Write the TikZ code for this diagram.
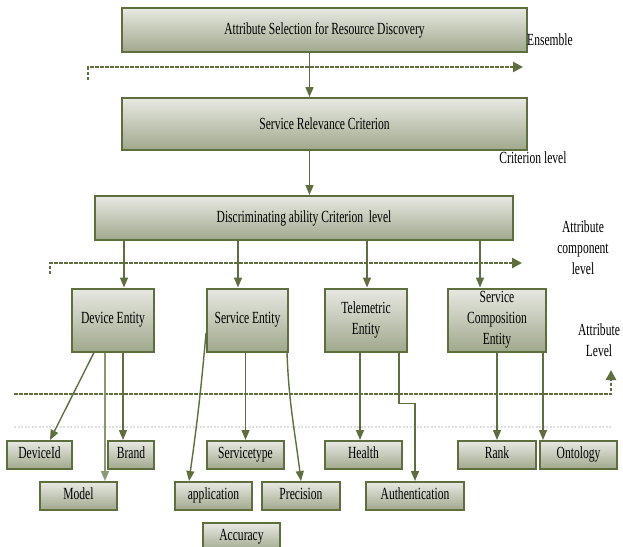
\documentclass[tikz,border=0pt]{standalone}
\usepackage{fontspec}
\setmainfont[FakeStretch=0.68]{Liberation Serif}
\usepackage{xcolor}
\usetikzlibrary{arrows.meta, positioning}

\definecolor{lvlgreen}{RGB}{94,110,62}
\definecolor{boxtop}{RGB}{232,233,227}
\definecolor{boxbot}{RGB}{160,168,140}
\definecolor{paleline}{RGB}{138,152,118}

\begin{document}
\begin{tikzpicture}[x=1pt, y=-1pt,
  box/.style={rectangle, draw=lvlgreen, line width=2pt, top color=boxtop,
              bottom color=boxbot, font=\fontsize{17}{21}\selectfont,
              align=center, inner sep=2pt},
  leaf/.style={box, minimum height=28, text height=11pt, text depth=4pt},
  arr/.style={-{Triangle[length=10pt,width=8pt]}, draw=lvlgreen, line width=1.4pt},
  lvl/.style={draw=lvlgreen, line width=2.8pt, dash pattern=on 3.5pt off 1.5pt,
              -{Triangle[length=10pt,width=10pt]}},
  tag/.style={font=\fontsize{17}{21}\selectfont, align=center}
]
  \useasboundingbox (0,0) rectangle (623,546);

  % levels
  \node[box, minimum width=405, minimum height=44] (asrd) at (324.5,30) {Attribute Selection for Resource Discovery};
  \node[box, minimum width=405, minimum height=52] (src)  at (324.5,124) {Service Relevance Criterion};
  \node[box, minimum width=418, minimum height=44] (dac)  at (304,218) {Discriminating ability Criterion\ \ level};

  % entities
  \node[box, minimum width=82, minimum height=63] (dev) at (113,320) {Device Entity};
  \node[box, minimum width=81, minimum height=63] (sve) at (247.5,320) {Service Entity};
  \node[box, minimum width=82, minimum height=63] (tel) at (366,320) {Telemetric\\Entity};
  \node[box, minimum width=98, minimum height=63] (sce) at (497,320) {Service\\Composition\\Entity};

  % attributes
  \node[leaf, minimum width=65] (did) at (39.5,455)  {DeviceId};
  \node[leaf, minimum width=46] (brd) at (131,455)   {Brand};
  \node[leaf, minimum width=77] (mdl) at (78.5,496)  {Model};
  \node[leaf, minimum width=77] (svt) at (245.5,455) {Servicetype};
  \node[leaf, minimum width=77] (app) at (213.5,496) {application};
  \node[leaf, minimum width=78] (prc) at (301,496)   {Precision};
  \node[leaf, minimum width=77] (acc) at (241.5,537) {Accuracy};
  \node[leaf, minimum width=77] (hlt) at (363.5,455) {Health};
  \node[leaf, minimum width=98] (aut) at (415,496)   {Authentication};
  \node[leaf, minimum width=78] (rnk) at (497,455)   {Rank};
  \node[leaf, minimum width=77] (ont) at (578.5,455) {Ontology};

  % side labels
  \node[tag] (ens) at (550,40)  {Ensemble};
  \node[tag] (crl) at (533,158) {Criterion level};
  \node[tag] (acl) at (583,248) {Attribute\\component\\level};
  \node[tag] (atl) at (599,340) {Attribute\\Level};

  % level lines
  \draw[lvl] (88,80) -- (88,67) -- (523,67);
  \draw[lvl] (50,274) -- (50,263) -- (522,263);
  \draw[lvl] (14,394) -- (611,394) -- (611,370);
  \draw[black!12, line width=2pt, dash pattern=on 2pt off 1.5pt] (14,427) -- (612,427);

  % helper points
  \coordinate (c1) at ([xshift=-15]asrd.south);
  \coordinate (c2) at ([xshift=-15]src.south);
  \coordinate (e1) at ([xshift=11]dev.north);
  \coordinate (e2) at ([xshift=-9.5]sve.north);
  \coordinate (e3) at ([xshift=1]tel.north);
  \coordinate (e4) at ([xshift=-17]sce.north);
  \coordinate (m1) at ([xshift=26.5]mdl.north);
  \coordinate (b1) at ([xshift=-8]brd.north);
  \coordinate (h1) at ([xshift=-3.5]hlt.north);
  \coordinate (o1) at ([xshift=-35.5]ont.north);

  \draw[arr] (c1) -- (c1 |- src.north);
  \draw[arr] (c2) -- (c2 |- dac.north);
  \draw[arr] (e1 |- dac.south) -- (e1);
  \draw[arr] (e2 |- dac.south) -- (e2);
  \draw[arr] (e3 |- dac.south) -- (e3);
  \draw[arr] (e4 |- dac.south) -- (e4);

  \draw[arr] ([xshift=-19]dev.south) -- ([xshift=10.5]did.north);
  \draw[arr, draw=paleline] (m1 |- dev.south) -- (m1);
  \draw[arr] (b1 |- dev.south) -- (b1);
  \draw[arr] ([yshift=-13]sve.west) to[out=-95, in=82] ([xshift=-24.5]app.north);
  \draw[arr] (sve.south -| svt.north) -- (svt.north);
  \draw[arr] ([xshift=39.5]sve.south) to[out=-88, in=97] (prc.north);
  \draw[arr] (h1 |- tel.south) -- (h1);
  \draw[arr] ([xshift=33]tel.south) -- ++(0,51) -| (aut.north);
  \draw[arr] (sce.south -| rnk.north) -- (rnk.north);
  \draw[arr] (o1 |- sce.south) -- (o1);
\end{tikzpicture}
\end{document}
